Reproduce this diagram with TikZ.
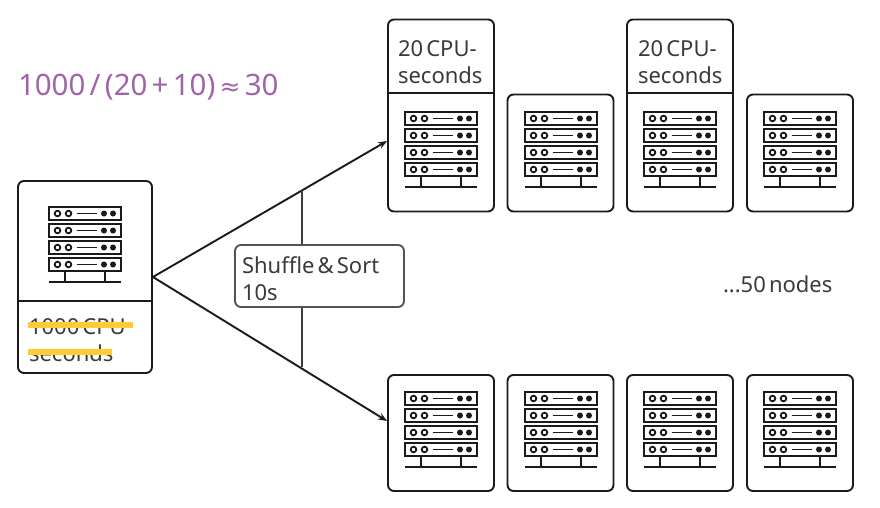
\documentclass[tikz,border=0pt]{standalone}
\usepackage{fontspec}
\setmainfont[WordSpace=0.55]{Noto Sans}
\newfontfamily\symfont{DejaVu Sans}
\definecolor{ink}{HTML}{1A1A1A}
\definecolor{txt}{HTML}{3A3A3A}
\definecolor{purp}{HTML}{A064A8}
\definecolor{strike}{HTML}{FFCC33}
\usetikzlibrary{arrows.meta}
\tikzset{
  x=1pt,y=-1pt,
  card/.style={draw=ink,line width=1.9pt,rounded corners=6pt,inner sep=0pt,fill=white},
  label/.style={inner sep=0pt,outer sep=0pt,anchor=north west,align=left,text=txt,
    font=\fontsize{22}{27}\selectfont},
  link/.style={draw=ink,line width=1.9pt},
  arrowlink/.style={link,-{Stealth[length=9pt,width=7pt]}},
  striker/.style={draw=strike,line width=6pt},
  pics/server/.style={code={
    \foreach \yy in {0,17,34,51}{
      \draw[ink,line width=2.1pt] (0,\yy) rectangle (72,\yy+13);
      \draw[ink,line width=1.8pt] (8.5,\yy+6.5) circle (2.8);
      \draw[ink,line width=1.8pt] (19.5,\yy+6.5) circle (2.8);
      \draw[ink,line width=1.9pt] (27.5,\yy+6.5) -- (47.5,\yy+6.5);
      \fill[ink] (55,\yy+6.5) circle (3);
      \fill[ink] (64,\yy+6.5) circle (3);
    }
    \draw[ink,line width=2pt] (16,64) -- (16,74.5);
    \draw[ink,line width=2pt] (56,64) -- (56,74.5);
    \draw[ink,line width=2pt] (0,74.5) -- (72,74.5);
  }},
}
\begin{document}
\begin{tikzpicture}
\useasboundingbox (0,0) rectangle (880,508);

% left machine
\node[card,minimum width=134pt,minimum height=192pt] (src) at (85,277) {};
\draw[link] (src.west |- 0,301) -- (src.east |- 0,301);
\pic at (49,207) {server};
\node[label] (srctext) at (29,319) {1000 CPU\\seconds};
\draw[striker] (28,325) -- (133,325);
\draw[striker] (28,352) -- (112,352);

% top row
\node[card,minimum width=106pt,minimum height=192pt] (t1) at (441,115.5) {};
\draw[link] (t1.west |- 0,93) -- (t1.east |- 0,93);
\pic at (405,112) {server};
\node[label] (t1text) at (398,40.5) {20 CPU-\\seconds};

\node[card,minimum width=106pt,minimum height=117pt] (t2) at (560.5,153) {};
\pic at (525,112) {server};

\node[card,minimum width=106pt,minimum height=192pt] (t3) at (680,115.5) {};
\draw[link] (t3.west |- 0,93) -- (t3.east |- 0,93);
\pic at (644,112) {server};
\node[label] (t3text) at (638,40.5) {20 CPU-\\seconds};

\node[card,minimum width=106pt,minimum height=117pt] (t4) at (800,153) {};
\pic at (764,112) {server};

% bottom row
\node[card,minimum width=106pt,minimum height=116pt] (b1) at (441,433) {};
\pic at (405,392) {server};
\node[card,minimum width=106pt,minimum height=116pt] (b2) at (560.5,433) {};
\pic at (525,392) {server};
\node[card,minimum width=106pt,minimum height=116pt] (b3) at (680,433) {};
\pic at (644,392) {server};
\node[card,minimum width=106pt,minimum height=116pt] (b4) at (800,433) {};
\pic at (764,392) {server};

% connectors
\coordinate (upin) at (t1.west |- 0,141);
\coordinate (downin) at (b1.west |- 0,421);
\draw[arrowlink] (src.east) -- (upin);
\draw[arrowlink] (src.east) -- (downin);

% shuffle
\node[draw=ink!75,line width=1.9pt,rounded corners=6pt,fill=white,minimum width=169pt,minimum height=62pt,inner sep=0pt] (shuffle) at (319.5,276) {};
\node[label] (shuffletext) at (242,257) {Shuffle \& Sort\\10s};
\coordinate (upmid) at (302,190);
\coordinate (downmid) at (302,367);
\draw[draw=ink!85,line width=1.9pt] (upmid) -- (upmid |- shuffle.north);
\draw[draw=ink!85,line width=1.9pt] (downmid |- shuffle.south) -- (downmid);

% free labels
\node[label] (nodes) at (723,275.5) {...50 nodes};
\node[label,text=purp,font=\fontsize{29.5}{34}\selectfont] (formula) at (18,74) {1000 / (20 + 10) {\symfont\fontsize{25}{34}\selectfont ≈} 30};
\end{tikzpicture}
\end{document}
